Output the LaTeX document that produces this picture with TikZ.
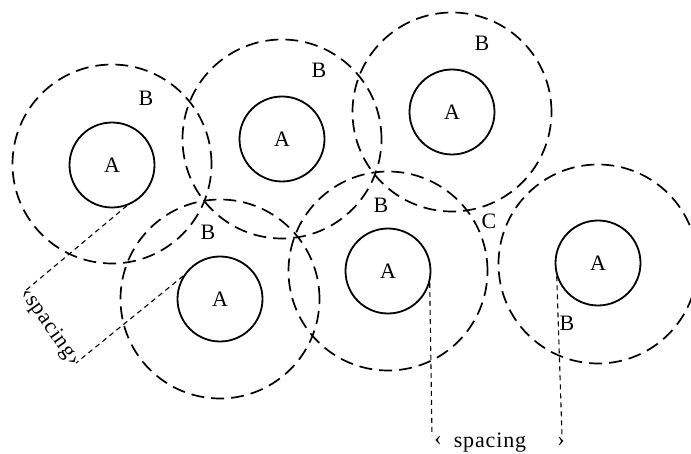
\documentclass[tikz,border=0pt]{standalone}
\usepackage{fontspec}
\setmainfont{Liberation Serif}
\begin{document}
\begin{tikzpicture}[x=1pt,y=-1pt,
  inner/.style={circle,draw,line width=1.8pt,minimum size=85pt,inner sep=0pt,font=\fontsize{22}{24}\selectfont},
  outer/.style={circle,draw,line width=1.7pt,minimum size=199pt,inner sep=0pt,dash pattern=on 13pt off 7pt},
  lbl/.style={font=\fontsize{22}{24}\selectfont,inner sep=0pt},
  sp/.style={font=\fontsize{22}{24}\selectfont\addfontfeature{LetterSpace=4},inner sep=0pt},
  guide/.style={line width=1.1pt,dash pattern=on 5pt off 4pt}]
\useasboundingbox (0,0) rectangle (691,454);
% inner circles
\node[inner] (a1) at (112,165) {A};
\node[inner] (a2) at (282,139) {A};
\node[inner] (a3) at (452,112) {A};
\node[inner] (a4) at (220,299) {A};
\node[inner] (a5) at (388,271) {A};
\node[inner] (a6) at (598,263) {A};
% outer circles
\node[outer] (b1) at (112,164) {};
\node[outer] (b2) at (282,139) {};
\node[outer] (b3) at (452,112) {};
\node[outer] (b4) at (220,299) {};
\node[outer] (b5) at (388,271) {};
\node[outer] (b6) at (598,264) {};
% labels
\node[lbl] (l1) at (146,98) {B};
\node[lbl] (l2) at (319,70) {B};
\node[lbl] (l3) at (482,43) {B};
\node[lbl] (l4) at (208,232) {B};
\node[lbl] (l5) at (381,205) {B};
\node[lbl] (l6) at (567,323) {B};
\node[lbl] (lc) at (489,221) {C};
% slanted spacing
\coordinate (s1) at (25,291);
\coordinate (s2) at (76,363);
\draw[guide] (a1.-70) -- (s1);
\draw[guide] (a4.148) -- (s2);
\node[sp,rotate=-55] (sp1) at (50,327) {‹spacing›};
% vertical spacing
\coordinate (s3) at (432,436);
\coordinate (s4) at (562,436);
\draw[guide] (a5.-16) -- (s3);
\draw[guide] (a6.-162) -- (s4);
\node[sp] (lt) at (438,441) {‹};
\node[sp] (sp2) at (490,443) {spacing};
\node[sp] (gt) at (561,442) {›};
\end{tikzpicture}
\end{document}
